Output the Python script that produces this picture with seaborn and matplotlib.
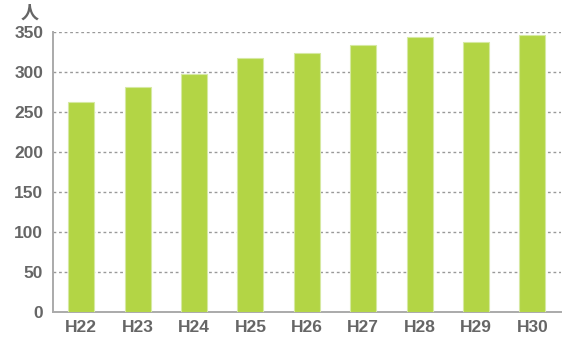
import matplotlib
matplotlib.use("Agg")
import matplotlib.pyplot as plt
import seaborn as sns
import pandas as pd

years = ["H22", "H23", "H24", "H25", "H26", "H27", "H28", "H29", "H30"]
counts = [263, 281, 297, 317, 324, 334, 344, 337, 346]
yticks = [0, 50, 100, 150, 200, 250, 300, 350]
unit_label = "人"

sns.set_theme(style="white")
plt.rcParams['font.family'] = ['Liberation Sans', 'Noto Sans CJK JP', 'DejaVu Sans']

df = pd.DataFrame({"year": years, "count": counts})

fig = plt.figure(figsize=(5.64, 3.42), dpi=100)
ax = fig.add_axes([53/564, 1-312/342, (560.6-53)/564, (312-32)/342])

sns.barplot(data=df, x="year", y="count", ax=ax, color="#b3d545",
            width=0.46, edgecolor="#d6e9a2", linewidth=0.8, saturation=1, zorder=3)

ax.set_xlim(-0.5, 8.5)
ax.set_ylim(0, 350)
ax.set_yticks(yticks)
ax.set_yticklabels([str(v) for v in yticks])
ax.set_xlabel("")
ax.set_ylabel("")
for v in yticks[1:]:
    ax.axhline(v, color="#999999", linestyle=(0, (2, 2)), linewidth=1.0, zorder=1)

for s in ["top", "right"]:
    ax.spines[s].set_visible(False)
for s in ["left", "bottom"]:
    ax.spines[s].set_color("#aaaaaa")
    ax.spines[s].set_linewidth(1.4)

ax.tick_params(axis="both", length=0, colors="#666666", labelsize=12.5)
ax.tick_params(axis="y", pad=7)
ax.tick_params(axis="x", pad=6)
for lbl in ax.get_xticklabels() + ax.get_yticklabels():
    lbl.set_fontweight("bold")

fig.text(30/564, 1-13/342, unit_label, ha="center", va="center", color="#666666",
         fontsize=13, fontweight="bold", family=['Noto Sans CJK JP', 'DejaVu Sans'])

fig.savefig("out.png", dpi=100)
